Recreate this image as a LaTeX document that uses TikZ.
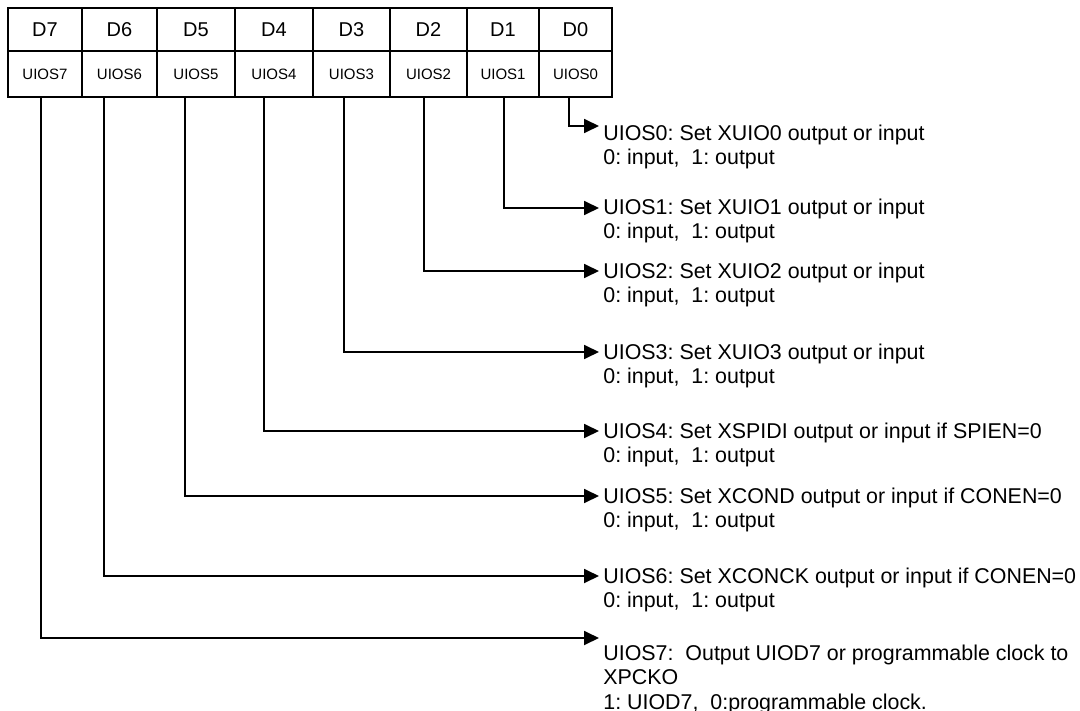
\documentclass[tikz,border=0pt]{standalone}
\usepackage{fontspec}
\setmainfont{Liberation Sans}
\usetikzlibrary{arrows.meta}
\frenchspacing
\begin{document}
\begin{tikzpicture}[x=0.5pt,y=-0.5pt,
  dcell/.style={draw, line width=1.1pt, minimum height=21.5pt, inner sep=0pt, outer sep=0pt,
    font=\fontsize{10}{12}\selectfont},
  scell/.style={draw, line width=1.1pt, minimum height=23pt, inner sep=0pt, outer sep=0pt,
    font=\fontsize{7.5}{9}\selectfont},
  desc/.style={anchor=north west, inner sep=0pt, align=left,
    font=\fontsize{10.7}{12.2}\selectfont},
  conn/.style={line width=0.9pt, -{Triangle[length=7.5pt,width=7pt]}}]
\useasboundingbox[fill=white] (0,0) rectangle (1080,711);

% register bit names (top row)
\node[dcell, minimum width=37pt]   (d7) at (45,29.5)    {D7};
\node[dcell, minimum width=37.5pt] (d6) at (119.5,29.5) {D6};
\node[dcell, minimum width=39pt]   (d5) at (196,29.5)   {D5};
\node[dcell, minimum width=39pt]   (d4) at (274,29.5)   {D4};
\node[dcell, minimum width=38.5pt] (d3) at (351.5,29.5) {D3};
\node[dcell, minimum width=38.5pt] (d2) at (428.5,29.5) {D2};
\node[dcell, minimum width=36pt]   (d1) at (503,29.5)   {D1};
\node[dcell, minimum width=36.5pt] (d0) at (575.5,29.5) {D0};

% field names (bottom row)
\node[scell, minimum width=37pt]   (c7) at (45,74)    {UIOS7};
\node[scell, minimum width=37.5pt] (c6) at (119.5,74) {UIOS6};
\node[scell, minimum width=39pt]   (c5) at (196,74)   {UIOS5};
\node[scell, minimum width=39pt]   (c4) at (274,74)   {UIOS4};
\node[scell, minimum width=38.5pt] (c3) at (351.5,74) {UIOS3};
\node[scell, minimum width=38.5pt] (c2) at (428.5,74) {UIOS2};
\node[scell, minimum width=36pt]   (c1) at (503,74)   {UIOS1};
\node[scell, minimum width=36.5pt] (c0) at (575.5,74) {UIOS0};

% arrow end points
\coordinate (a0) at (599,126);
\coordinate (a1) at (599,208);
\coordinate (a2) at (599,271);
\coordinate (a3) at (599,352);
\coordinate (a4) at (599,431);
\coordinate (a5) at (599,496);
\coordinate (a6) at (599,576);
\coordinate (a7) at (599,638);

% field descriptions
\node[desc] (t0) at (603,124.5) {UIOS0: Set XUIO0 output or input\\0: input,\ \ 1: output};
\node[desc] (t1) at (603,198.5) {UIOS1: Set XUIO1 output or input\\0: input,\ \ 1: output};
\node[desc] (t2) at (603,262.5) {UIOS2: Set XUIO2 output or input\\0: input,\ \ 1: output};
\node[desc] (t3) at (603,343.5) {UIOS3: Set XUIO3 output or input\\0: input,\ \ 1: output};
\node[desc] (t4) at (603,422.5) {UIOS4: Set XSPIDI output or input if SPIEN=0\\0: input,\ \ 1: output};
\node[desc] (t5) at (603,487.5) {UIOS5: Set XCOND output or input if CONEN=0\\0: input,\ \ 1: output};
\node[desc] (t6) at (603,567.5) {UIOS6: Set XCONCK output or input if CONEN=0\\0: input,\ \ 1: output};
\node[desc] (t7) at (603,644.5) {UIOS7:\ \ Output UIOD7 or programmable clock to\\XPCKO\\1: UIOD7,\ \ 0:programmable clock.};

% connectors from each field to its description
\draw[conn] ([xshift=-3.25pt]c0.south) |- (a0);
\draw[conn] ([xshift=0.5pt]c1.south)   |- (a1);
\draw[conn] ([xshift=-2.25pt]c2.south) |- (a2);
\draw[conn] ([xshift=-3.75pt]c3.south) |- (a3);
\draw[conn] ([xshift=-5pt]c4.south)    |- (a4);
\draw[conn] ([xshift=-5.5pt]c5.south)  |- (a5);
\draw[conn] ([xshift=-7.75pt]c6.south) |- (a6);
\draw[conn] ([xshift=-2pt]c7.south)    |- (a7);
\end{tikzpicture}
\end{document}
